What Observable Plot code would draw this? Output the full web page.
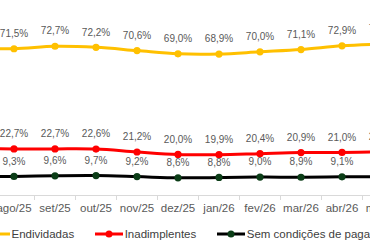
<!DOCTYPE html>
<html>
<head>
<meta charset="utf-8">
<script src="https://cdn.jsdelivr.net/npm/d3@7"></script>
<script src="https://cdn.jsdelivr.net/npm/@observablehq/plot@0.6"></script>
<style>
  html, body { margin: 0; padding: 0; background: #fff; overflow: hidden; width: 370px; height: 250px; }
  #wrap { position: relative; margin-left: -48.5px; width: 451px; font-family: "Liberation Sans", Arial, sans-serif; }
  #legend { display: flex; align-items: center; margin-top: 12px; margin-left: 30.5px; height: 14px; font-size: 11.5px; color: #404040; white-space: nowrap; }
  #legend .item { display: flex; align-items: center; margin-right: 21px; }
  #legend svg { margin-right: 1.5px; }
</style>
</head>
<body>
<div id="wrap"></div>
<script>
// Monthly survey: share of households (%)
const months = ["jul/25", "ago/25", "set/25", "out/25", "nov/25", "dez/25", "jan/26", "fev/26", "mar/26", "abr/26", "mai/26"];
const endividadas = [72.0, 71.5, 72.7, 72.2, 70.6, 69.0, 68.9, 70.0, 71.1, 72.9, 73.8];
const inadimplentes = [22.8, 22.7, 22.7, 22.6, 21.2, 20.0, 19.9, 20.4, 20.9, 21.0, 21.2];
const semCondicoes = [9.3, 9.3, 9.6, 9.7, 9.2, 8.6, 8.8, 9.0, 8.9, 9.1, 9.2];

const seriesNames = ["Endividadas", "Inadimplentes", "Sem condições de pagamento"];
const lineColors = ["#FFC000", "#FF0000", "#000000"];
const dotColors = ["#FFC000", "#FF0000", "#0b3d17"];

const seriesValues = [endividadas, inadimplentes, semCondicoes];
const rows = seriesValues.flatMap((vals, k) =>
  months.map((m, i) => ({i, month: m, value: vals[i], series: seriesNames[k]}))
);

const fmt = v => v.toFixed(1).replace(".", ",") + "%";
const idx = months.map((_, i) => i);
// tick marks sit between the months
const bounds = months.slice(0, -1).map((_, i) => i + 0.5);

const chart = Plot.plot({
  width: 451,
  height: 215,
  marginLeft: 0,
  marginRight: 0,
  marginTop: 0,
  marginBottom: 20,
  style: {fontFamily: "Liberation Sans, Arial, sans-serif", background: "#fff"},
  x: {type: "linear", domain: [-0.5, months.length - 0.5]},
  y: {domain: [0, 95], axis: null},
  color: {domain: seriesNames, range: lineColors},
  marks: [
    Plot.ruleY([0], {stroke: "#d9d9d9", strokeWidth: 1}),
    Plot.axisX(bounds, {text: null, tickSize: 5, stroke: "#d9d9d9"}),
    Plot.axisX(idx, {tickSize: 0, tickPadding: 8, tickFormat: i => months[i], fontSize: 11.5, fill: "#595959"}),
    Plot.line(rows, {x: "i", y: "value", z: "series", stroke: "series", strokeWidth: 3, curve: "catmull-rom"}),
    Plot.dot(rows, {x: "i", y: "value", r: 3.6, fill: d => dotColors[seriesNames.indexOf(d.series)], stroke: "none"}),
    Plot.text(rows, {x: "i", y: "value", text: d => fmt(d.value), dy: -15, fontSize: 10, fill: "#595959"})
  ]
});

const wrap = document.getElementById("wrap");
wrap.appendChild(chart);

// Legend below the chart
const legend = document.createElement("div");
legend.id = "legend";
seriesNames.forEach((name, k) => {
  const item = document.createElement("div");
  item.className = "item";
  item.innerHTML =
    `<svg width="28" height="10"><line x1="0" y1="5" x2="28" y2="5" stroke="${lineColors[k]}" stroke-width="3"/>` +
    `<circle cx="14" cy="5" r="3.5" fill="${dotColors[k]}"/></svg><span>${name}</span>`;
  legend.appendChild(item);
});
wrap.appendChild(legend);
</script>
</body>
</html>
